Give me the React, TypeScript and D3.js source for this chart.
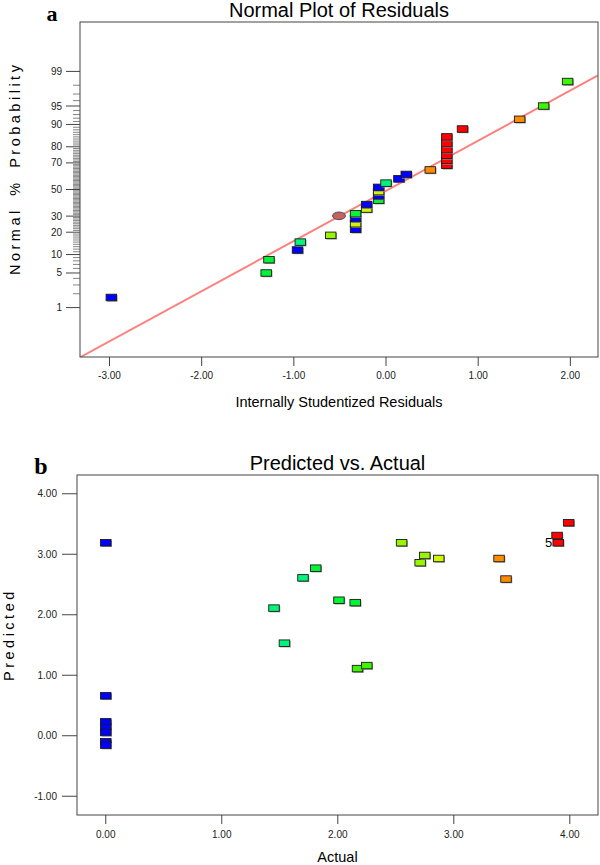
import { useEffect, useRef } from "react";
import * as d3 from "d3";

// ---- panel a : normal plot of residuals ----
const residuals = [
  -2.98, -1.3, -1.27, -0.96, -0.93, -0.6, -0.33, -0.33, -0.33, -0.33, -0.21, -0.21,
  -0.08, -0.08, -0.08, -0.08, 0.0, 0.14, 0.22, 0.48, 0.66, 0.66, 0.66, 0.66, 0.66,
  0.66, 0.83, 1.45, 1.71, 1.97,
];
const normalProb = [
  1.67, 5, 8.33, 11.67, 15, 18.33, 21.67, 25, 28.33, 31.67, 35, 38.33, 41.67, 45,
  48.33, 51.67, 55, 58.33, 61.67, 65, 68.33, 71.67, 75, 78.33, 81.67, 85, 88.33,
  91.67, 95, 98.33,
];
const residualColors = [
  "blue", "green", "green", "blue", "teal", "chartreuse", "blue", "yellow", "blue",
  "green", "yellow", "blue", "green", "blue", "yellow", "blue", "teal", "blue",
  "blue", "orange", "red", "red", "red", "red", "red", "red", "red", "orange",
  "lime", "lime",
];
const flagged = { residual: -0.51, prob: 30.2 };
const fitLine = { intercept: -0.026, slope: 0.988 }; // z = intercept + slope * residual
const probTicks = [1, 5, 10, 20, 30, 50, 70, 80, 90, 95, 99];
const residualTicks = [-3, -2, -1, 0, 1, 2];

// ---- panel b : predicted vs actual ----
const actual = [
  0, 0, 0, 0, 0, 0, 0, 1.45, 1.54, 1.7, 1.81, 2.01, 2.15, 2.17, 2.25, 2.55, 2.71,
  2.75, 2.87, 3.39, 3.45, 3.89, 3.9, 3.99,
];
const predicted = [
  3.19, 0.66, 0.23, 0.14, 0.055, -0.1, -0.155, 2.11, 1.53, 2.61, 2.77, 2.24, 2.2,
  1.11, 1.16, 3.19, 2.86, 2.98, 2.93, 2.93, 2.59, 3.31, 3.19, 3.52,
];
const predictedColors = [
  "blue", "blue", "blue", "blue", "blue", "blue", "blue", "teal", "teal", "teal",
  "green", "green", "green", "lime", "lime", "chartreuse", "chartreuse",
  "chartreuse", "yellow", "orange", "orange", "red", "red", "red",
];
const countLabel = { actual: 3.9, predicted: 3.19, text: "5" };
const predTicks = [-1, 0, 1, 2, 3, 4];
const actualTicks = [0, 1, 2, 3, 4];

const palette: Record<string, string> = {
  blue: "#0000ff",
  teal: "#00f57a",
  green: "#00f535",
  lime: "#3ef500",
  chartreuse: "#98f500",
  yellow: "#d2f500",
  orange: "#ff8c00",
  red: "#ff0000",
};

const FONT = "'Liberation Sans', Arial, sans-serif";
const SERIF = "'Liberation Serif', 'Times New Roman', serif";

// inverse normal CDF (Acklam)
function probit(p: number) {
  const a = [-39.69683028665376, 220.9460984245205, -275.9285104469687, 138.357751867269, -30.66479806614716, 2.506628277459239];
  const b = [-54.47609879822406, 161.5858368580409, -155.6989798598866, 66.80131188771972, -13.28068155288572];
  const c = [-0.007784894002430293, -0.3223964580411365, -2.400758277161838, -2.549732539343734, 4.374664141464968, 2.938163982698783];
  const d = [0.007784695709041462, 0.3224671290700398, 2.445134137142996, 3.754408661907416];
  const lo = 0.02425;
  if (p < lo) {
    const q = Math.sqrt(-2 * Math.log(p));
    return (((((c[0] * q + c[1]) * q + c[2]) * q + c[3]) * q + c[4]) * q + c[5]) / ((((d[0] * q + d[1]) * q + d[2]) * q + d[3]) * q + 1);
  }
  if (p <= 1 - lo) {
    const q = p - 0.5;
    const r = q * q;
    return ((((((a[0] * r + a[1]) * r + a[2]) * r + a[3]) * r + a[4]) * r + a[5]) * q) / (((((b[0] * r + b[1]) * r + b[2]) * r + b[3]) * r + b[4]) * r + 1);
  }
  const q = Math.sqrt(-2 * Math.log(1 - p));
  return -(((((c[0] * q + c[1]) * q + c[2]) * q + c[3]) * q + c[4]) * q + c[5]) / ((((d[0] * q + d[1]) * q + d[2]) * q + d[3]) * q + 1);
}

function marker(g: any, x: number, y: number, color: string) {
  const w = 10.5;
  const h = 6.5;
  // soft grey shadow, like the exported bitmap
  g.append("rect")
    .attr("x", x - w / 2 + 1)
    .attr("y", y - h / 2 + 1)
    .attr("width", w)
    .attr("height", h)
    .attr("fill", "#9a9a9a");
  g.append("rect")
    .attr("x", x - w / 2)
    .attr("y", y - h / 2)
    .attr("width", w)
    .attr("height", h)
    .attr("fill", color)
    .attr("stroke", "#1a1a1a")
    .attr("stroke-width", 0.9);
}

export default function App() {
  const svgRef = useRef<SVGSVGElement>(null);

  useEffect(() => {
    if (!svgRef.current) return;
    const svg = d3.select(svgRef.current);
    svg.selectAll("*").remove();

    // ================= panel a =================
    const A = { left: 80, right: 598, top: 22, bottom: 357 };
    const xA = d3.scaleLinear().domain([-3.32, 2.3]).range([A.left, A.right]);
    const zA = d3.scaleLinear().domain([-3.3, 3.3]).range([A.bottom, A.top]);
    const yProb = (p: number) => zA(probit(p / 100));

    const ga = svg.append("g");

    svg
      .append("clipPath")
      .attr("id", "clipA")
      .append("rect")
      .attr("x", A.left)
      .attr("y", A.top)
      .attr("width", A.right - A.left)
      .attr("height", A.bottom - A.top);

    // minor probability ticks
    d3.range(1, 100)
      .filter((p) => !probTicks.includes(p))
      .forEach((p) => {
        ga.append("line")
          .attr("x1", A.left - 7)
          .attr("x2", A.left)
          .attr("y1", yProb(p))
          .attr("y2", yProb(p))
          .attr("stroke", "#666")
          .attr("stroke-width", 0.8);
      });

    probTicks.forEach((p) => {
      ga.append("line")
        .attr("x1", A.left - 14)
        .attr("x2", A.left)
        .attr("y1", yProb(p))
        .attr("y2", yProb(p))
        .attr("stroke", "#444");
      ga.append("text")
        .attr("x", A.left - 18)
        .attr("y", yProb(p))
        .attr("dy", "0.35em")
        .attr("text-anchor", "end")
        .attr("font-family", FONT)
        .attr("font-size", 10)
        .attr("fill", "#222")
        .text(p.toString());
    });

    residualTicks.forEach((t) => {
      ga.append("line")
        .attr("x1", xA(t))
        .attr("x2", xA(t))
        .attr("y1", A.bottom)
        .attr("y2", A.bottom + 9)
        .attr("stroke", "#444");
      ga.append("text")
        .attr("x", xA(t))
        .attr("y", 378.5)
        .attr("text-anchor", "middle")
        .attr("font-family", FONT)
        .attr("font-size", 10)
        .attr("fill", "#222")
        .text(t.toFixed(2));
    });

    // reference line
    const lineXs = xA.domain();
    ga.append("line")
      .attr("clip-path", "url(#clipA)")
      .attr("x1", xA(lineXs[0]))
      .attr("y1", zA(fitLine.intercept + fitLine.slope * lineXs[0]))
      .attr("x2", xA(lineXs[1]))
      .attr("y2", zA(fitLine.intercept + fitLine.slope * lineXs[1]))
      .attr("stroke", "#ff8080")
      .attr("stroke-width", 2);

    // flagged point
    ga.append("ellipse")
      .attr("cx", xA(flagged.residual))
      .attr("cy", yProb(flagged.prob))
      .attr("rx", 6.5)
      .attr("ry", 3.8)
      .attr("fill", "#c46262")
      .attr("stroke", "#444")
      .attr("stroke-width", 0.9);

    residuals.forEach((r, i) => {
      marker(ga, xA(r), yProb(normalProb[i]), palette[residualColors[i]]);
    });

    ga.append("rect")
      .attr("x", A.left)
      .attr("y", A.top)
      .attr("width", A.right - A.left)
      .attr("height", A.bottom - A.top)
      .attr("fill", "none")
      .attr("stroke", "#444");

    ga.append("text")
      .attr("x", (A.left + A.right) / 2)
      .attr("y", 17)
      .attr("text-anchor", "middle")
      .attr("font-family", FONT)
      .attr("font-size", 20)
      .text("Normal Plot of Residuals");

    ga.append("text")
      .attr("x", 52)
      .attr("y", 21)
      .attr("text-anchor", "middle")
      .attr("font-family", SERIF)
      .attr("font-weight", "bold")
      .attr("font-size", 22)
      .text("a");

    ga.append("text")
      .attr("x", (A.left + A.right) / 2)
      .attr("y", 407)
      .attr("text-anchor", "middle")
      .attr("font-family", FONT)
      .attr("font-size", 14.5)
      .text("Internally Studentized Residuals");

    ga.append("text")
      .attr("transform", "translate(20,275) rotate(-90)")
      .attr("font-family", FONT)
      .attr("font-size", 14.5)
      .attr("letter-spacing", 3.5)
      .attr("word-spacing", 4)
      .text("Normal % Probability");

    // ================= panel b =================
    const B = { left: 77, right: 598, top: 475, bottom: 815 };
    const xB = d3.scaleLinear().domain([-0.248, 4.243]).range([B.left, B.right]);
    const yB = d3.scaleLinear().domain([-1.31, 4.31]).range([B.bottom, B.top]);
    const gb = svg.append("g");

    predTicks.forEach((t) => {
      gb.append("line")
        .attr("x1", B.left - 15)
        .attr("x2", B.left)
        .attr("y1", yB(t))
        .attr("y2", yB(t))
        .attr("stroke", "#444");
      gb.append("text")
        .attr("x", B.left - 20)
        .attr("y", yB(t))
        .attr("dy", "0.35em")
        .attr("text-anchor", "end")
        .attr("font-family", FONT)
        .attr("font-size", 10)
        .attr("fill", "#222")
        .text(t.toFixed(2));
    });

    actualTicks.forEach((t) => {
      gb.append("line")
        .attr("x1", xB(t))
        .attr("x2", xB(t))
        .attr("y1", B.bottom)
        .attr("y2", B.bottom + 9)
        .attr("stroke", "#444");
      gb.append("text")
        .attr("x", xB(t))
        .attr("y", 837.5)
        .attr("text-anchor", "middle")
        .attr("font-family", FONT)
        .attr("font-size", 10)
        .attr("fill", "#222")
        .text(t.toFixed(2));
    });

    actual.forEach((a, i) => {
      marker(gb, xB(a), yB(predicted[i]), palette[predictedColors[i]]);
    });

    gb.append("text")
      .attr("x", xB(countLabel.actual) - 6)
      .attr("y", yB(countLabel.predicted))
      .attr("dy", "0.35em")
      .attr("text-anchor", "end")
      .attr("font-family", FONT)
      .attr("font-size", 13)
      .text(countLabel.text);

    gb.append("rect")
      .attr("x", B.left)
      .attr("y", B.top)
      .attr("width", B.right - B.left)
      .attr("height", B.bottom - B.top)
      .attr("fill", "none")
      .attr("stroke", "#444");

    gb.append("text")
      .attr("x", (B.left + B.right) / 2)
      .attr("y", 470)
      .attr("text-anchor", "middle")
      .attr("font-family", FONT)
      .attr("font-size", 20)
      .text("Predicted vs. Actual");

    gb.append("text")
      .attr("x", 41)
      .attr("y", 474)
      .attr("text-anchor", "middle")
      .attr("font-family", SERIF)
      .attr("font-weight", "bold")
      .attr("font-size", 24)
      .text("b");

    gb.append("text")
      .attr("x", (B.left + B.right) / 2)
      .attr("y", 862)
      .attr("text-anchor", "middle")
      .attr("font-family", FONT)
      .attr("font-size", 14.5)
      .text("Actual");

    gb.append("text")
      .attr("transform", "translate(14,681) rotate(-90)")
      .attr("font-family", FONT)
      .attr("font-size", 14.5)
      .attr("letter-spacing", 3.5)
      .text("Predicted");
  }, []);

  return (
    <svg
      ref={svgRef}
      width={600}
      height={865}
      viewBox="0 0 600 865"
      style={{ position: "absolute", left: 0, top: 0, background: "#fff" }}
    />
  );
}
